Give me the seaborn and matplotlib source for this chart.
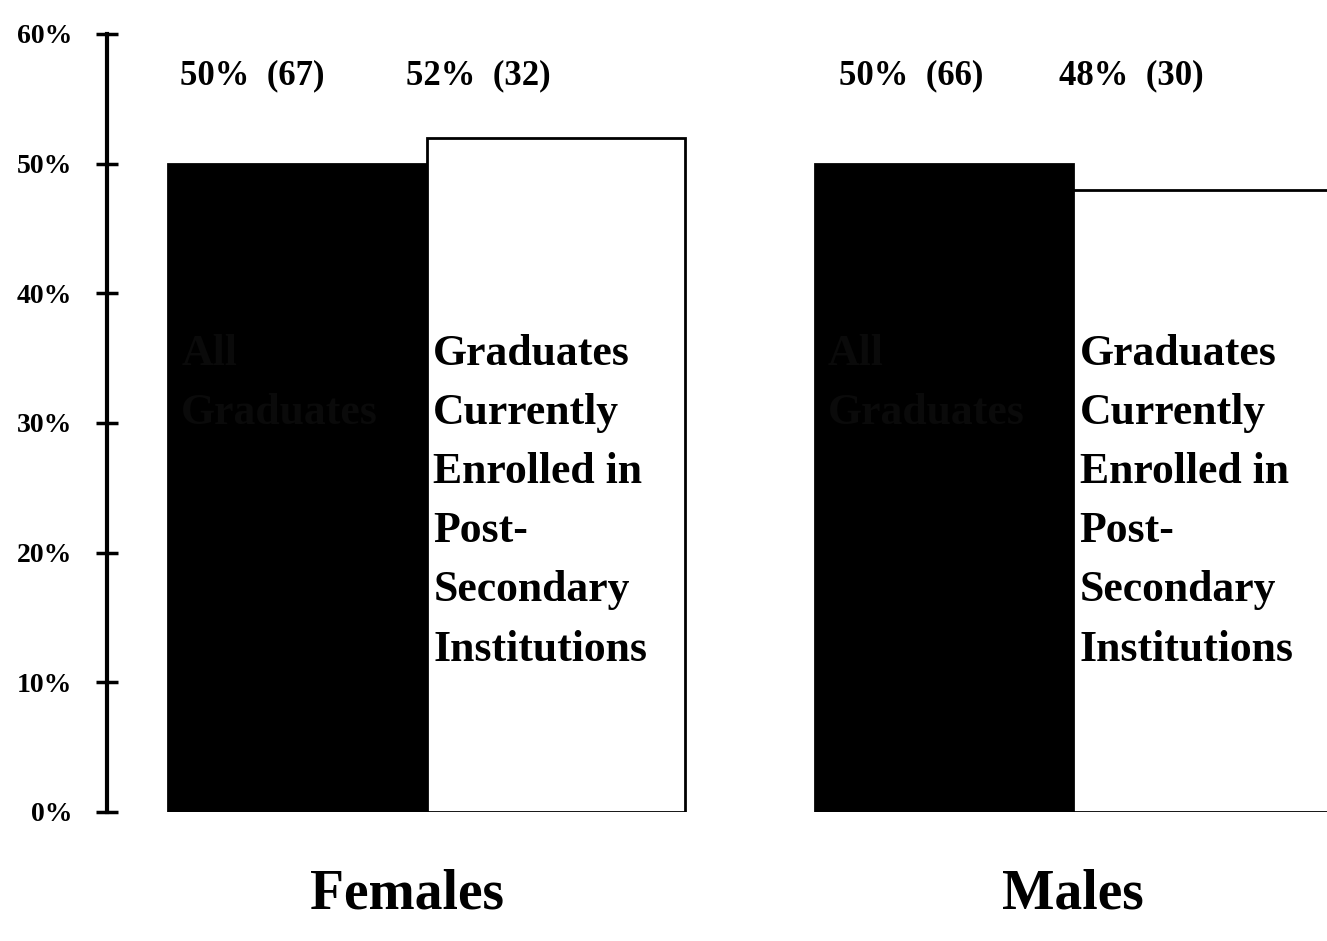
import matplotlib
import matplotlib.pyplot as plt
import pandas as pd
import seaborn as sns

matplotlib.use('Agg')

# data
groups = ['Females', 'Females', 'Males', 'Males']
kinds = ['All Graduates', 'Enrolled', 'All Graduates', 'Enrolled']
percents = [50, 52, 50, 48]
counts = [67, 32, 66, 30]
y_ticks = [0, 10, 20, 30, 40, 50, 60]

df = pd.DataFrame({'group': groups, 'kind': kinds, 'pct': percents})

sns.set_style('white')
plt.rcParams['font.family'] = ['Liberation Serif', 'DejaVu Serif']
plt.rcParams['text.color'] = 'black'
plt.rcParams['ytick.color'] = 'black'

fig = plt.figure(figsize=(13.27, 9.41), dpi=100)
ax = fig.add_axes([0.0806, 0.1371, 0.9194, 0.8268])

sns.barplot(data=df, x='group', y='pct', hue='kind',
            palette={'All Graduates': 'black', 'Enrolled': 'white'},
            edgecolor='black', linewidth=2, width=0.8,
            legend=False, ax=ax)

ax.set_xlim(-0.495, 1.393)
ax.set_ylim(0, 60)
ax.set_yticks(y_ticks)
ax.set_yticklabels([f'{t}%' for t in y_ticks], fontsize=20, fontweight='bold')
ax.tick_params(axis='y', direction='inout', length=16, width=2.5, pad=17,
               left=True, labelcolor='black')
ax.set_xticks([])
ax.set_xlabel('')
ax.set_ylabel('')
for side in ['top', 'right', 'bottom']:
    ax.spines[side].set_visible(False)
ax.spines['left'].set_linewidth(3)
ax.spines['left'].set_color('black')

# value labels above the bars
bars = sorted(ax.patches, key=lambda p: p.get_x())
shift = [-0.07, -0.12, -0.05, -0.11]
for bar, pct, n, dx in zip(bars, percents, counts, shift):
    cx = bar.get_x() + bar.get_width() / 2 + dx
    ax.text(cx, 56.8, f'{pct}%  ({n})', ha='center', va='center',
            fontsize=25, fontweight='bold', clip_on=False)

# text inside the bars
inner = 'Graduates\nCurrently\nEnrolled in\nPost-\nSecondary\nInstitutions'
for i, bar in enumerate(bars):
    if i % 2 == 1:
        ax.text(bar.get_x() + 0.01, 36.9, inner, ha='left', va='top',
                fontsize=31.5, fontweight='bold', linespacing=1.62)
    else:
        ax.text(bar.get_x() + 0.02, 36.9, 'All\nGraduates', ha='left', va='top',
                fontsize=31.5, fontweight='bold', linespacing=1.62, color='#0a0a0a')

# group names below
for name, x in zip(['Females', 'Males'], [-0.03, 1.0]):
    ax.text(x, -6.4, name, ha='center', va='center', fontsize=40,
            fontweight='bold', clip_on=False)

plt.savefig('out.png', dpi=100)
